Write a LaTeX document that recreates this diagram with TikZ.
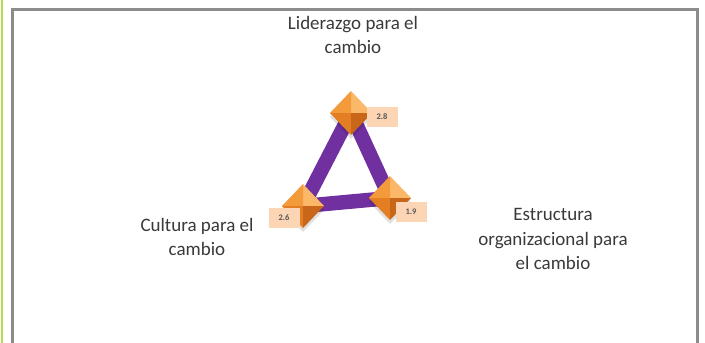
\documentclass[tikz,border=0pt]{standalone}
\usepackage{fontspec}
\setmainfont{Carlito}
\usepackage{tikz}
\usetikzlibrary{shapes.geometric}

\definecolor{framegray}{HTML}{8C8C8C}
\definecolor{leafgreen}{HTML}{B3DE4C}
\definecolor{barpurple}{HTML}{7030A0}
\definecolor{peach}{HTML}{FCD5B4}
\definecolor{gemA}{HTML}{FBB869}
\definecolor{gemB}{HTML}{F39A3A}
\definecolor{gemC}{HTML}{E47E22}
\definecolor{gemD}{HTML}{C8661A}
\definecolor{txtgray}{HTML}{3A3A3A}

\tikzset{
  gem/.style={diamond, minimum width=42pt, minimum height=44pt, inner sep=0pt, outer sep=0pt},
  valbox/.style={fill=peach, minimum width=31pt, minimum height=20pt, inner sep=0pt,
    font=\fontsize{8.5}{9}\selectfont\bfseries, text=txtgray!85},
  lbl/.style={align=center, font=\fontsize{19}{24.5}\selectfont, text=txtgray},
  bar/.style={barpurple, line width=14.5pt}
}

\begin{document}
\begin{tikzpicture}[x=1pt, y=-1pt]
				\useasboundingbox (0,0) rectangle (705,343);
				\fill[white] (0,0) rectangle (705,343);
				% frame
				\draw[leafgreen, line width=2.5pt] (2,0) -- (2,343);
				\draw[framegray, line width=3pt] (12,345) -- (12,9) -- (697,9) -- (697,345);
				% corners of the triangle
				\coordinate (lidpt) at (351,113);
				\coordinate (culpt) at (303,206);
				\coordinate (estpt) at (390,198);
				\draw[bar] (lidpt) -- (culpt);
				\draw[bar] (culpt) -- (estpt);
				\draw[bar] (estpt) -- (lidpt);
				% gems
				\foreach \g in {lid,cul,est}{
					\node[gem, fill=black, opacity=0.12] at ([yshift=-4pt]\g pt) {};
					\node[gem] (\g) at (\g pt) {};
					\fill[gemA] (\g.north) -- (\g.east) -- (\g.center) -- cycle;
					\fill[gemB] (\g.north) -- (\g.west) -- (\g.center) -- cycle;
					\fill[gemC] (\g.west) -- (\g.south) -- (\g.center) -- cycle;
					\fill[gemD] (\g.east) -- (\g.south) -- (\g.center) -- cycle;
				}
				% values
				\node[valbox] (lidval) at (382,116.5) {2.8};
				\node[valbox] (culval) at (284,218) {2.6};
				\node[valbox] (estval) at (411,212) {1.9};
				% labels
				\node[lbl] (lidlbl) at (353,35) {Liderazgo para el\\cambio};
				\node[lbl] (cullbl) at (197,237) {Cultura para el\\cambio};
				\node[lbl] (estlbl) at (553,239) {Estructura\\organizacional para\\el cambio};
			\end{tikzpicture}
\end{document}
